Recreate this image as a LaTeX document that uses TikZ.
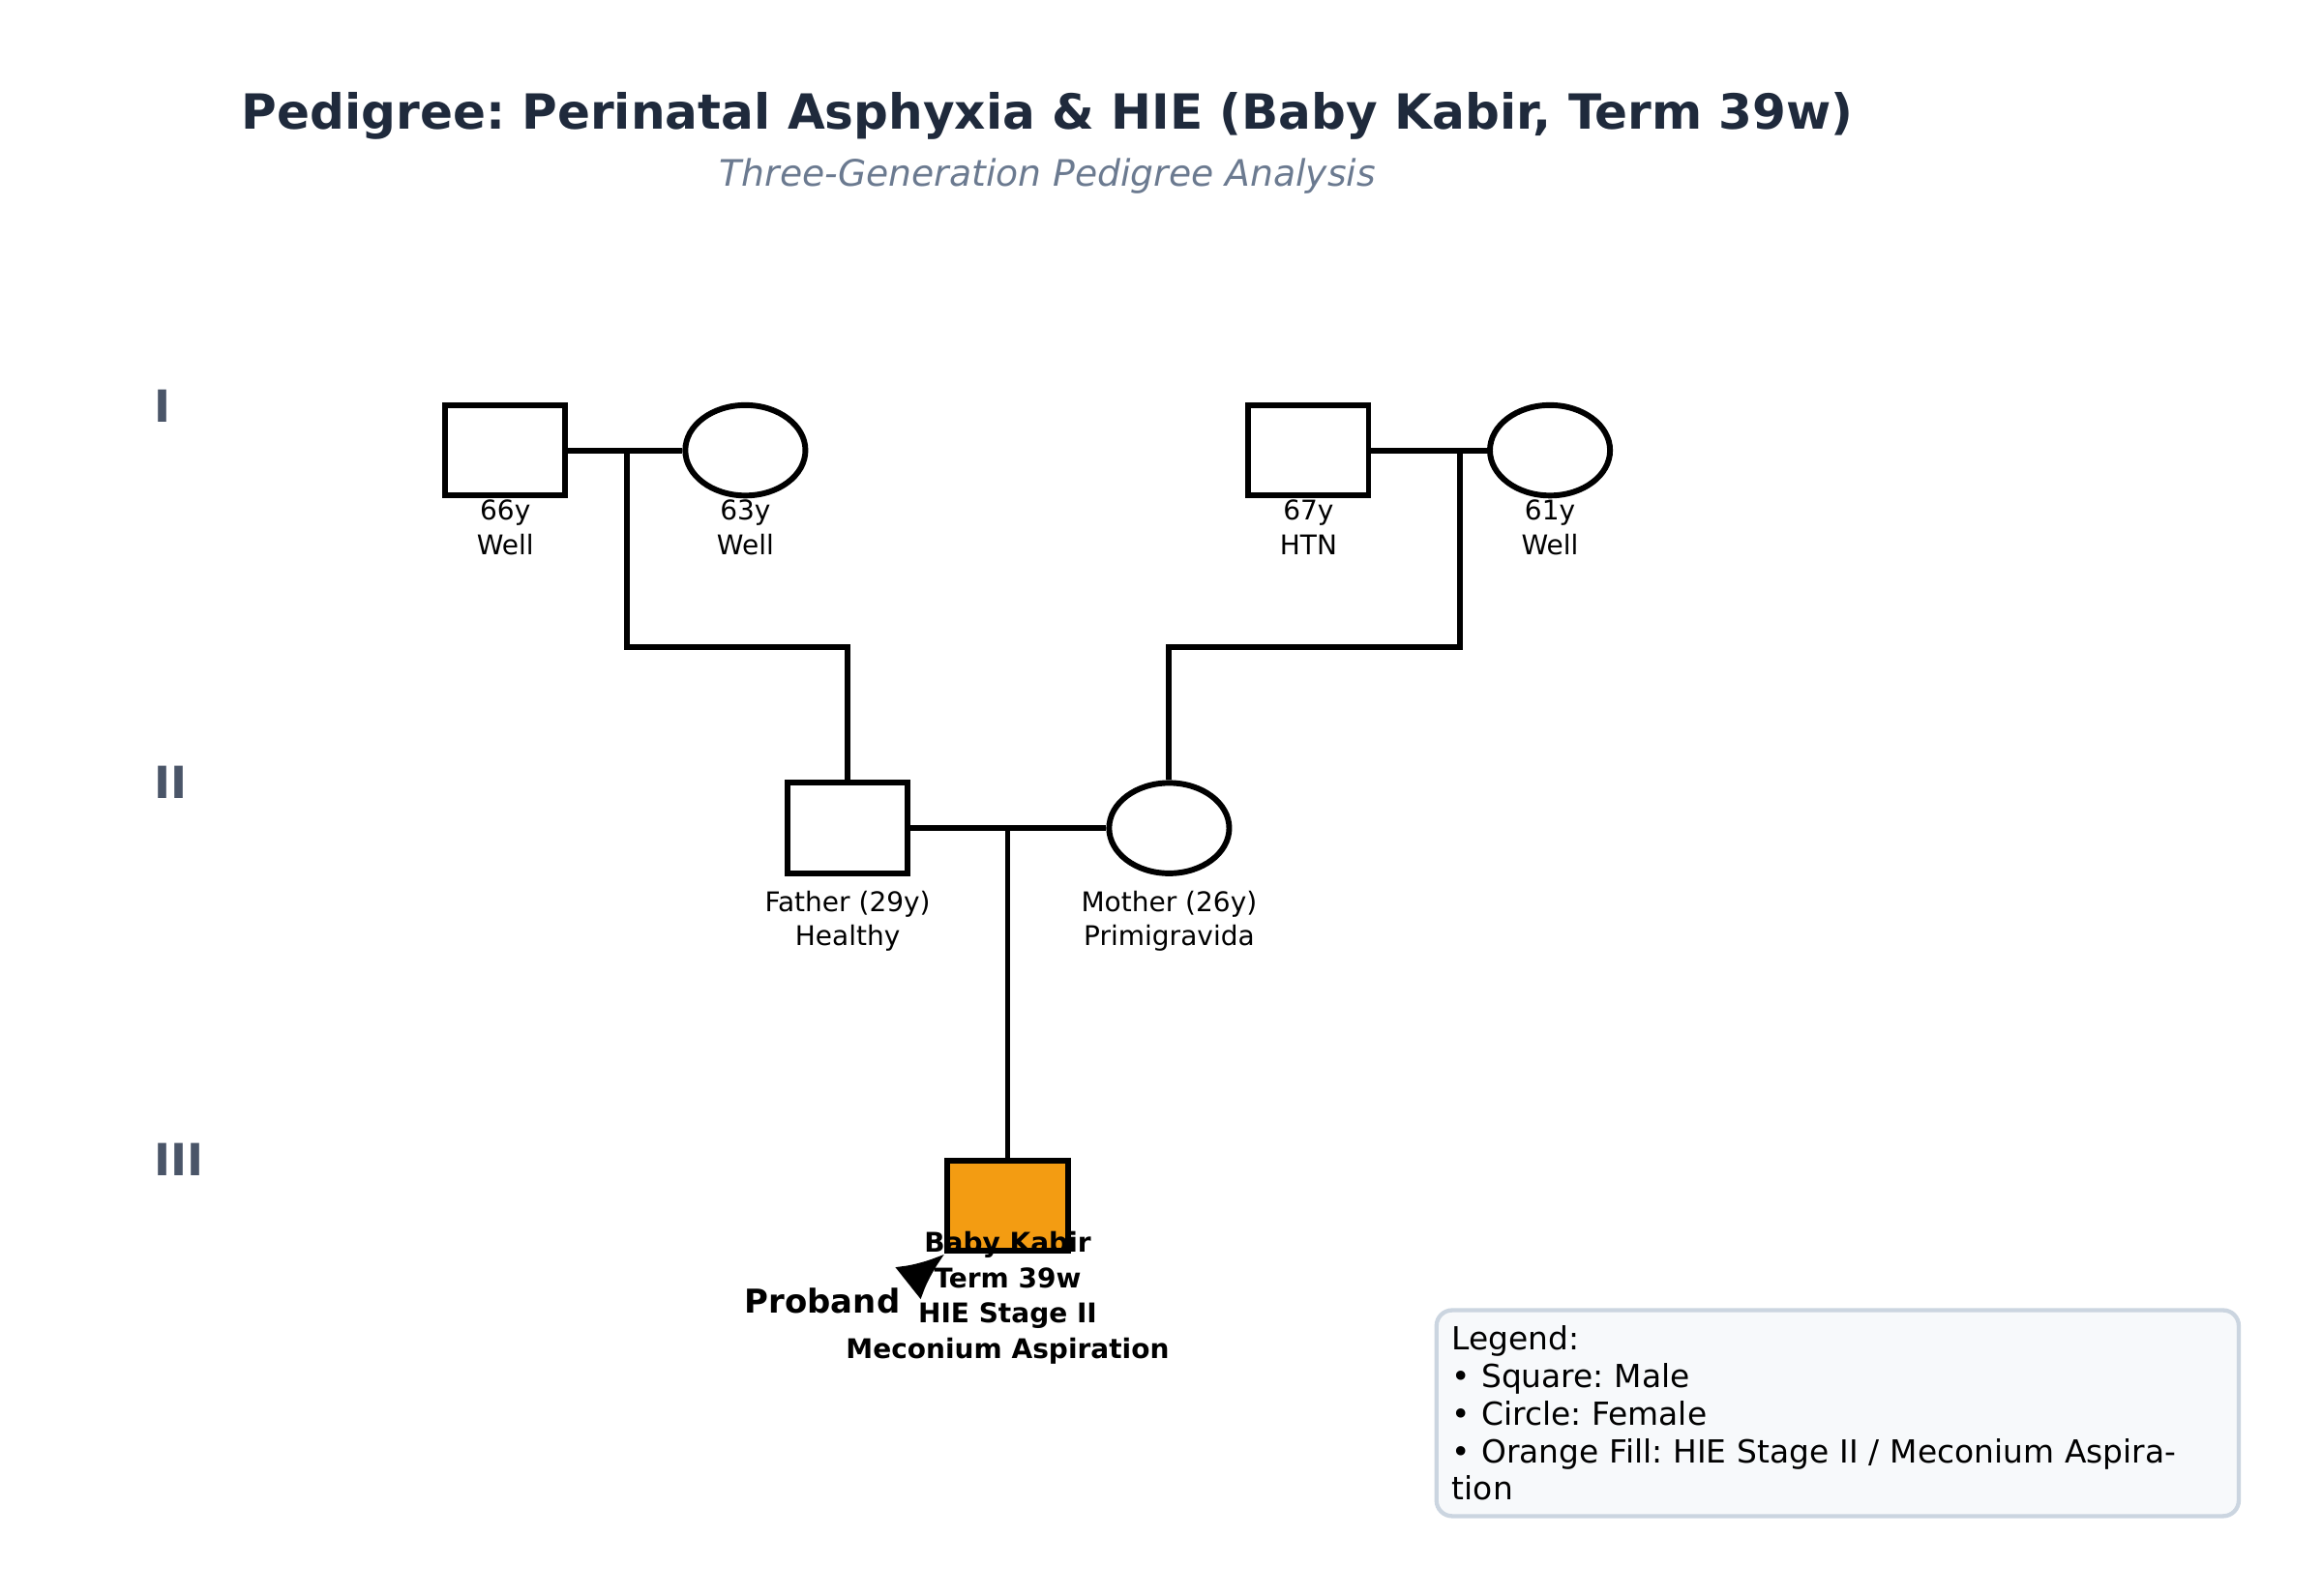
\documentclass[tikz,border=0pt]{standalone}
\usepackage{fontspec}
\setmainfont{DejaVu Sans}
\usetikzlibrary{shapes.geometric,positioning,arrows.meta}
\definecolor{titleblue}{HTML}{1F2A3C}
\definecolor{subgray}{HTML}{6B7A90}
\definecolor{genslate}{HTML}{4A5568}
\definecolor{hieorange}{HTML}{F39C12}
\definecolor{legfill}{HTML}{F7F9FB}
\definecolor{legdraw}{HTML}{CBD5E0}
\tikzset{
    male/.style={rectangle, draw, line width=1.1pt, minimum width=0.81cm, minimum height=0.61cm, inner sep=0pt},
    female/.style={ellipse, draw, line width=1.1pt, minimum width=0.81cm, minimum height=0.61cm, inner sep=0pt},
    info/.style={align=center, font=\fontsize{5.2}{6.6}\selectfont, anchor=north},
    gen/.style={font=\fontsize{8.5}{10}\selectfont\bfseries, text=genslate, anchor=west},
    line/.style={line width=1.1pt}
}
\begin{document}
\frenchspacing
\begin{tikzpicture}[x=0.01cm,y=-0.01cm]
    \useasboundingbox (0,0) rectangle (1567,1077);

    % title
    \node (title) [font=\fontsize{9.3}{11}\selectfont\bfseries, text=titleblue] at (707,78) {Pedigree: Perinatal Asphyxia \& HIE (Baby Kabir, Term 39w)};
    \node (subtitle) [font=\fontsize{7}{8}\selectfont\itshape, text=subgray] at (707,119) {Three-Generation Pedigree Analysis};

    % generations
    \node (g1) [gen] at (92,274) {I};
    \node (g2) [gen] at (92,528) {II};
    \node (g3) [gen] at (92,783) {III};

    % generation I
    \node (gf1) [male] at (341,304) {};
    \node (gm1) [female] at (503,304) {};
    \node (gf2) [male] at (883,304) {};
    \node (gm2) [female] at (1046,304) {};
    \node [info] at (341,325) {66y\\Well};
    \node [info] at (503,325) {63y\\Well};
    \node [info] at (883,325) {67y\\HTN};
    \node [info] at (1046,325) {61y\\Well};

    % generation II
    \node (father) [male] at (572,559) {};
    \node (mother) [female] at (789,559) {};
    \node [info] at (572,589) {Father (29y)\\Healthy};
    \node [info] at (789,589) {Mother (26y)\\Primigravida};

    % generation III
    \node (baby) [male, fill=hieorange] at (680,814) {};
    \node (babyinfo) [info, font=\fontsize{5.2}{6.8}\selectfont\bfseries] at (680,819) {Baby Kabir\\Term 39w\\HIE Stage II\\Meconium Aspiration};

    % couples and descent
    \coordinate (c1) at (423,304);
    \coordinate (c2) at (985,304);
    \coordinate (c3) at (680,559);
    \draw [line] (gf1.east) -- (gm1.west);
    \draw [line] (gf2.east) -- (gm2.west);
    \draw [line] (father.east) -- (mother.west);
    \draw [line] (c1) -- (423,437) -| (father.north);
    \draw [line] (c2) -- (985,437) -| (mother.north);
    \draw [line] (c3) -- (baby.north);

    % proband
    \coordinate (ptail) at (618,862);
    \draw [line width=1.4pt, -{Latex[length=9pt,width=8pt]}] (ptail) -- (baby.south west);
    \node (proband) [font=\fontsize{6.3}{7}\selectfont\bfseries] at (555,878) {Proband};

    % legend
    \node (legend) [draw=legdraw, fill=legfill, line width=0.8pt, rounded corners=3pt, align=left, anchor=north west, minimum width=5.39cm, minimum height=1.25cm, text width=5.2cm, inner sep=3pt, font=\fontsize{6.1}{7.2}\selectfont] at (968,883) {Legend:\\• Square: Male\\• Circle: Female\\• Orange Fill: HIE Stage II / Meconium Aspiration};
\end{tikzpicture}
\end{document}
